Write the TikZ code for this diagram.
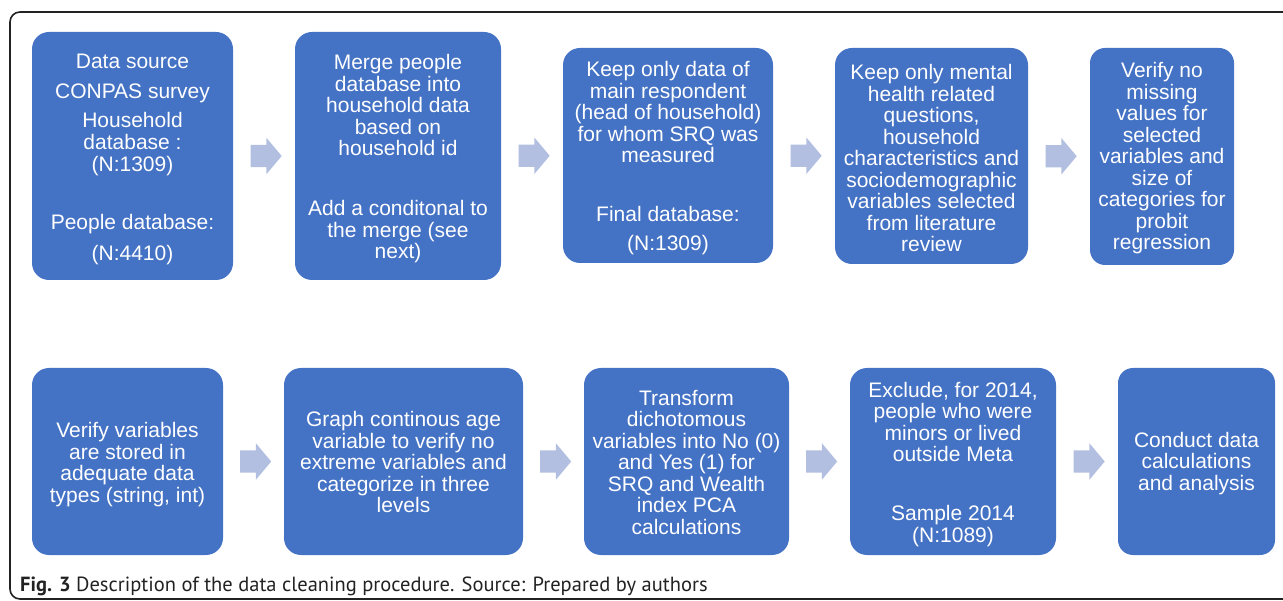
\documentclass[tikz,border=0pt]{standalone}
\usepackage{fontspec}
\setmainfont{Liberation Sans}
\newfontfamily\capfont{PT Sans}
\usetikzlibrary{shapes.arrows,calc}
\definecolor{boxblue}{HTML}{4472C4}
\definecolor{arrowc}{HTML}{B2BFE1}
\definecolor{framec}{HTML}{222222}
\tikzset{
  box/.style={fill=boxblue, draw=none, rounded corners=17pt, inner sep=0pt},
  txt/.style={text=white, align=center, inner sep=0pt, font=\fontsize{21}{21.5}\selectfont},
  arr/.style={shape=single arrow, fill=arrowc, draw=none, inner sep=0pt,
    minimum height=31pt, single arrow head extend=7pt, xshift=-2.5pt,
    single arrow tip angle=100, single arrow head indent=0pt},
}
\begin{document}
\begin{tikzpicture}[x=1pt,y=-1pt]
\useasboundingbox (0,0) rectangle (1283,601);
\draw[framec, line width=1.6pt, rounded corners=10pt] (10,12) rectangle (1320,599);
% row 1
\node[box, minimum width=201pt, minimum height=248pt] (b1) at (132.5,156) {};
\node[box, minimum width=206pt, minimum height=248pt] (b2) at (398,156) {};
\node[box, minimum width=210pt, minimum height=215pt] (b3) at (668,155.5) {};
\node[box, minimum width=193pt, minimum height=216pt] (b4) at (931.5,156) {};
\node[box, minimum width=144pt, minimum height=217pt, rounded corners=15pt] (b5) at (1162,156.5) {};
% row 2
\node[box, minimum width=191pt, minimum height=187pt] (b6) at (127.5,461.5) {};
\node[box, minimum width=239pt, minimum height=187pt] (b7) at (403.5,461.5) {};
\node[box, minimum width=205pt, minimum height=187pt] (b8) at (686.5,461.5) {};
\node[box, minimum width=206pt, minimum height=187pt] (b9) at (953,461.5) {};
\node[box, minimum width=157pt, minimum height=187pt, rounded corners=15pt] (b10) at (1196.5,461.5) {};
% texts
\node[txt] (t1) at ($(b1.center)+(0,3.5)$)
  {Data source\\[8.5pt] CONPAS survey\\[7.5pt] Household\\ database :\\[0.5pt] (N:1309)\\[36.5pt] People database:\\[9.5pt] (N:4410)};
\node[txt] (t2) at ($(b2.center)+(0,3)$)
  {Merge people\\ database into\\ household data\\ based on\\ household id\\[38.5pt] Add a conditonal to\\ the merge (see\\ next)};
\node[txt] (t3) at ($(b3.center)+(0,3)$)
  {Keep only data of\\ main respondent\\ (head of household)\\ for whom SRQ was\\ measured\\[37.5pt] Final database:\\[7.5pt] (N:1309)};
\node[txt] (t4) at ($(b4.center)+(0,2)$)
  {Keep only mental\\ health related\\ questions,\\ household\\ characteristics and\\ sociodemographic\\ variables selected\\ from literature\\ review};
\node[txt] (t5) at ($(b5.center)+(0,2)$)
  {Verify no\\ missing\\ values for\\ selected\\ variables and\\ size of\\ categories for\\ probit\\ regression};
\node[txt] (t6) at ($(b6.center)+(0,3)$)
  {Verify variables\\ are stored in\\ adequate data\\ types (string, int)};
\node[txt] (t7) at ($(b7.center)+(0,0.5)$)
  {Graph continous age\\ variable to verify no\\ extreme variables and\\ categorize in three\\ levels};
\node[txt] (t8) at ($(b8.center)+(0,1)$)
  {Transform\\ dichotomous\\ variables into No (0)\\ and Yes (1) for\\ SRQ and Wealth\\ index PCA\\ calculations};
\node[txt] (t9) at ($(b9.center)+(0,3)$)
  {Exclude, for 2014,\\ people who were\\ minors or lived\\ outside Meta\\[37.5pt] Sample 2014\\ (N:1089)};
\node[txt] (t10) at ($(b10.center)+(0,2)$)
  {Conduct data\\ calculations\\ and analysis};
% arrows
\node[arr] (a1) at ($(b1.east)!0.5!(b2.west)$) {\rule{0pt}{22pt}};
\node[arr] (a2) at ($(b2.east)!0.5!(b3.west)$) {\rule{0pt}{22pt}};
\node[arr] (a3) at ($(b3.east)!0.5!(b4.west)$) {\rule{0pt}{22pt}};
\node[arr] (a4) at ($(b4.east)!0.5!(b5.west)$) {\rule{0pt}{22pt}};
\node[arr] (a5) at ($(b6.east)!0.5!(b7.west)$) {\rule{0pt}{22pt}};
\node[arr] (a6) at ($(b7.east)!0.5!(b8.west)$) {\rule{0pt}{22pt}};
\node[arr] (a7) at ($(b8.east)!0.5!(b9.west)$) {\rule{0pt}{22pt}};
\node[arr] (a8) at ($(b9.east)!0.5!(b10.west)$) {\rule{0pt}{22pt}};
% caption
\node[anchor=base west, inner sep=0pt, text=framec, font=\capfont\fontsize{20.5}{22}\selectfont] (cap) at (20,591)
  {\textbf{Fig. 3} Description of the data cleaning procedure. Source: Prepared by authors};
\end{tikzpicture}
\end{document}
